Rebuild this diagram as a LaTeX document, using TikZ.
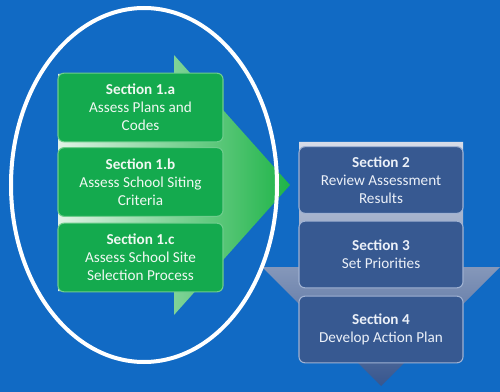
\documentclass[tikz,border=0pt]{standalone}
\usepackage{fontspec}
\setmainfont{Carlito}
\usepackage{xcolor}
\usetikzlibrary{shapes}

\tikzset{
  greenbox/.style={draw={rgb, 255:red, 110; green, 205; blue, 140 }, line width=0.8pt,
    fill={rgb, 255:red, 20; green, 170; blue, 78 }, rounded corners=4.5pt,
    minimum width=123.75pt, minimum height=51.5pt, inner sep=0pt, align=center,
    text={rgb, 255:red, 240; green, 248; blue, 242 }, font=\fontsize{11.4}{13.5}\selectfont},
  bluebox/.style={draw={rgb, 255:red, 160; green, 178; blue, 210 }, line width=0.8pt,
    fill={rgb, 255:red, 55; green, 89; blue, 145 }, rounded corners=4.5pt,
    minimum width=123pt, minimum height=50pt, inner sep=0pt, align=center,
    text={rgb, 255:red, 235; green, 240; blue, 248 }, font=\fontsize{11.4}{13.5}\selectfont}
}

\begin{document}
\begin{tikzpicture}[x=0.75pt,y=0.75pt,yscale=-1,xscale=1]
%set diagram left start at 0, and has height of 392
\useasboundingbox (0,0) rectangle (500,392);
\fill [fill={rgb, 255:red, 17; green, 106; blue, 196 }] (0,0) rectangle (500,392);

%Shape: Right Arrow [id:green]
\shade [left color={rgb, 255:red, 225; green, 242; blue, 230 }, right color={rgb, 255:red, 30; green, 180; blue, 72 }] (58,74) -- (174,74) -- (174,55) -- (290,185) -- (174,315) -- (174,291) -- (58,291) -- cycle ;
%Shape: Down Arrow [id:blue]
\shade [top color={rgb, 255:red, 215; green, 220; blue, 232 }, middle color={rgb, 255:red, 168; green, 180; blue, 205 }, bottom color={rgb, 255:red, 55; green, 86; blue, 142 }] (299,142) -- (463,142) -- (463,267) -- (500,267) -- (381,386) -- (262,267) -- (299,267) -- cycle ;

% Text Node
\node (s1a) at (140.5,107.5) [greenbox] {\textbf{Section 1.a}\\Assess Plans and\\Codes};
% Text Node
\node (s1b) at (140.5,182) [greenbox] {\textbf{Section 1.b}\\Assess School Siting\\Criteria};
% Text Node
\node (s1c) at (140.5,257.5) [greenbox] {\textbf{Section 1.c}\\Assess School Site\\Selection Process};
% Text Node
\node (s2) at (381,180) [bluebox] {\textbf{Section 2}\\Review Assessment\\Results};
% Text Node
\node (s3) at (381,254.5) [bluebox] {\textbf{Section 3}\\Set Priorities};
% Text Node
\node (s4) at (381,329.5) [bluebox] {\textbf{Section 4}\\Develop Action Plan};

%Shape: Ellipse [id:ring]
\draw [white, line width=3pt] (144,185) ellipse (133 and 177) ;

\end{tikzpicture}
\end{document}
